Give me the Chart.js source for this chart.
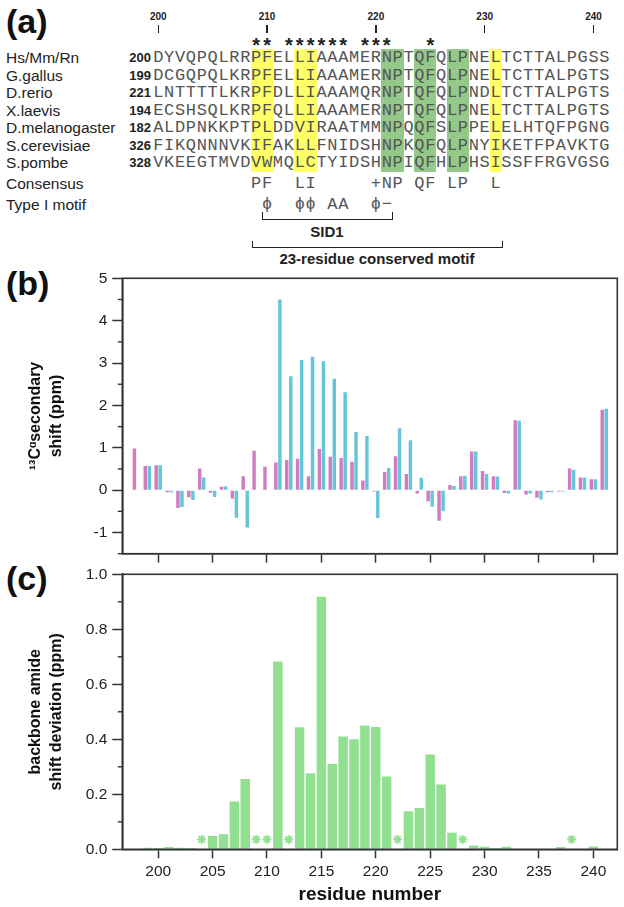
<!DOCTYPE html>
<html>
<head>
<meta charset="utf-8">
<script src="https://cdn.jsdelivr.net/npm/chart.js@4.4.0/dist/chart.umd.min.js"></script>
<style>
  body { margin: 0; background: #fff; }
  #page { position: relative; width: 624px; height: 907px; overflow: hidden; font-family: 'Liberation Sans', Arial, sans-serif; }
  .abs { position: absolute; white-space: nowrap; line-height: 20px; }
  .plabel { position: absolute; font-weight: bold; font-size: 34px; line-height: 40px; color: #111; }
  .seq { position: absolute; text-align: center; font-family: 'Liberation Mono', 'Courier New', monospace; font-size: 17px; line-height: 20px; color: #555; }
  .wrap { position: absolute; left: 0; width: 624px; }
</style>
</head>
<body>
<div id="page">
  <div id="align"></div>
  <div class="plabel" style="left:6px;top:1px">(a)</div>
  <div class="plabel" style="left:6px;top:263px">(b)</div>
  <div class="plabel" style="left:6px;top:558px">(c)</div>
  <div class="wrap" style="top:262px;height:306px"><canvas id="chartB"></canvas></div>
  <div class="wrap" style="top:560px;height:347px"><canvas id="chartC"></canvas></div>
</div>
<script>
// ---- (a) alignment ----
const species = ['Hs/Mm/Rn', 'G.gallus', 'D.rerio', 'X.laevis', 'D.melanogaster', 'S.cerevisiae', 'S.pombe'];
const startNums = ['200', '199', '221', '194', '182', '326', '328'];
const sequences = [
  'DYVQPQLRRPFELLIAAAMERNPTQFQLPNELTCTTALPGSS',
  'DCGQPQLKRPFELLIAAAMERNPTQFQLPNELTCTTALPGTS',
  'LNTTTTLKRPFDLLIAAAMQRNPTQFQLPNDLTCTTALPGTS',
  'ECSHSQLKRPFQLLIAAAMERNPTQFQLPNELTCTTALPGTS',
  'ALDPNKKPTPLDDVIRAATMMNPQQFSLPPELELHTQFPGNG',
  'FIKQNNNVKIFAKLLFNIDSHNPKQFQLPNYIKETFPAVKTG',
  'VKEEGTMVDVWMQLCTYIDSHNPIQFHLPHSISSFFRGVGSG'
];
const consensus = '         PF  LI     +NP QF LP  L';
const typeIMotif = '          \u03d5  \u03d5\u03d5 AA  \u03d5\u2212';
const yellowCols = [9, 10, 13, 14, 31];
const greenCols = [21, 22, 24, 25, 27, 28];
const starCols = [9, 10, 12, 13, 14, 15, 16, 17, 19, 20, 21, 25];
const rulerCols = [0, 10, 20, 30, 40];
const rulerLabels = ['200', '210', '220', '230', '240'];

// layout of the alignment block (columns line up with residue axis below)
const colX0 = 158.3, colW = 10.88;
const rowY = [58, 75.5, 93, 110.5, 128, 145.5, 163];
const consY = 184, motifY = 205;

const align = document.getElementById('align');
function add(html, style, cls) {
  const d = document.createElement('div');
  d.className = cls || 'abs';
  d.style.cssText = style;
  d.innerHTML = html;
  align.appendChild(d);
  return d;
}
function colLeft(c) { return colX0 + colW * (c - 0.5); }

yellowCols.forEach(c => add('', `position:absolute;left:${colLeft(c)}px;top:49px;width:${colW + 0.6}px;height:123px;background:#ffff66`, 'x'));
greenCols.forEach(c => add('', `position:absolute;left:${colLeft(c)}px;top:49px;width:${colW + 0.6}px;height:123px;background:#94c98a`, 'x'));

rulerCols.forEach((c, i) => {
  const x = colX0 + colW * c;
  add(rulerLabels[i], `left:${x - 15}px;top:7px;width:30px;text-align:center;font-size:10px;font-weight:bold;color:#222`);
  add('', `position:absolute;left:${x - 0.75}px;top:25px;width:1.5px;height:8px;background:#222`, 'x');
});
starCols.forEach(c => add('*', `left:${colLeft(c) - 3}px;top:35px;width:${colW + 6}px;text-align:center;font-size:20px;font-weight:bold;color:#222`));

function seqRow(str, y) {
  for (let c = 0; c < str.length; c++) {
    if (str[c] === ' ') continue;
    add(str[c], `left:${colLeft(c)}px;top:${y - 10}px;width:${colW}px`, 'seq');
  }
}
species.forEach((name, i) => {
  add(name, `left:6px;top:${rowY[i] - 10}px;font-size:15.5px;color:#222`);
  add(startNums[i], `left:110px;top:${rowY[i] - 10}px;width:41px;text-align:right;font-size:13px;font-weight:bold;color:#222`);
  seqRow(sequences[i], rowY[i]);
});
add('Consensus', `left:6px;top:${consY - 10}px;font-size:15.5px;color:#222`);
add('Type I motif', `left:6px;top:${motifY - 10}px;font-size:15.5px;color:#222`);
seqRow(consensus, consY);
seqRow(typeIMotif, motifY);

// brackets
function bracket(x1, x2, y, h) {
  add('', `position:absolute;left:${x1}px;top:${y - h}px;width:${x2 - x1}px;height:${h}px;border:1.5px solid #222;border-top:none;box-sizing:border-box`, 'x');
}
bracket(colX0 + colW * 9.5, colX0 + colW * 21.6, 220, 8);
add('SID1', `left:${colX0 + colW * 15.5 - 40}px;top:${232 - 10}px;width:80px;text-align:center;font-size:15px;font-weight:bold;color:#222`);
bracket(colX0 + colW * 8.6, colX0 + colW * 31.7, 248, 7);
add('23-residue conserved motif', `left:${colX0 + colW * 20.1 - 120}px;top:${259 - 10}px;width:240px;text-align:center;font-size:15px;font-weight:bold;color:#222`);

// ---- (b) 13C-alpha secondary shifts ----
const residuesB = [198, 199, 200, 201, 202, 203, 204, 205, 206, 207, 208, 209, 210, 211, 212, 213, 214, 215, 216, 217, 218, 219, 220,
  221, 222, 223, 224, 225, 226, 227, 228, 229, 230, 231, 232, 233, 234, 235, 236, 237, 238, 239, 240, 241];
const shiftPink = [0.98, 0.57, 0.59, -0.05, -0.42, -0.17, 0.51, -0.06, 0.08, -0.20, 0.33, 0.93, 0.55, 0.65, 0.71, 0.74, 0.33, 0.97, 0.79, 0.76, 0.67, 0.23, -0.03,
  0.43, 0.80, 0.38, -0.08, -0.26, -0.72, 0.12, 0.33, 0.91, 0.45, 0.33, -0.07, 1.65, -0.10, -0.18, -0.05, -0.03, 0.51, 0.30, 0.26, 1.90];
const shiftCyan = [null, 0.57, 0.59, -0.05, -0.40, -0.23, 0.30, -0.16, 0.09, -0.65, -0.88, null, null, 4.50, 2.69, 3.07, 3.15, 3.04, 2.63, 2.31, 1.37, 1.28, -0.66,
  0.52, 1.46, 1.18, 0.29, -0.39, -0.50, 0.10, 0.34, 0.91, 0.38, 0.32, -0.08, 1.64, -0.08, -0.22, -0.05, -0.03, 0.48, 0.30, 0.26, 1.92];
const yTicksB = [-1, 0, 1, 2, 3, 4, 5];
const yMinorB = [-1.5, -0.5, 0.5, 1.5, 2.5, 3.5, 4.5];

// ---- (c) backbone amide shift deviation ----
const residuesC = [199, 200, 201, 202, 203, 205, 206, 207, 208, 211, 213, 214, 215, 216, 217, 218, 219, 220, 221,
  223, 224, 225, 226, 227, 229, 230, 231, 232, 237, 240];
const amideDev = [0.006, 0.005, 0.008, 0.006, 0.005, 0.048, 0.055, 0.174, 0.256, 0.683, 0.444, 0.277, 0.918, 0.310, 0.410, 0.400, 0.450, 0.445, 0.265,
  0.138, 0.150, 0.345, 0.236, 0.060, 0.014, 0.009, 0.005, 0.009, 0.008, 0.010];
const prolineResidues = [204, 209, 210, 212, 222, 228, 238];
const starLevel = 0.036;
const yTicksC = [0, 0.2, 0.4, 0.6, 0.8, 1.0];
const yMinorC = [0.1, 0.3, 0.5, 0.7, 0.9];

const xTicks = [200, 205, 210, 215, 220, 225, 230, 235, 240];

const FONT = "'Liberation Sans', Arial, sans-serif";
const AXIS = '#333';

const framePlugin = {
  id: 'frame',
  afterDraw(chart) {
    const a = chart.chartArea, ctx = chart.ctx;
    ctx.save();
    ctx.strokeStyle = AXIS;
    ctx.lineWidth = 1.6;
    ctx.strokeRect(a.left, a.top, a.right - a.left, a.bottom - a.top);
    ctx.restore();
  }
};
const minorTicks = {
  id: 'minorTicks',
  afterDraw(chart, args, opts) {
    const y = chart.scales.y, ctx = chart.ctx;
    ctx.save();
    ctx.strokeStyle = AXIS;
    ctx.lineWidth = 1.4;
    (opts.values || []).forEach(v => {
      const py = y.getPixelForValue(v);
      ctx.beginPath();
      ctx.moveTo(y.right - 4.5, py);
      ctx.lineTo(y.right, py);
      ctx.stroke();
    });
    ctx.restore();
  }
};

function xAxis(showLabels, height) {
  return {
    type: 'linear', min: 196.7, max: 242.2, offset: false,
    afterBuildTicks: s => { s.ticks = xTicks.map(v => ({ value: v })); },
    afterFit: s => { s.height = height; },
    ticks: {
      callback: v => showLabels ? String(v) : '',
      font: { family: FONT, size: 15.5 }, color: '#222', padding: 4, maxRotation: 0
    },
    grid: { drawOnChartArea: false, tickLength: 9, tickColor: AXIS, tickWidth: 1.5, offset: false },
    border: { color: AXIS, width: 1.6 },
    title: showLabels ? { display: true, text: 'residue number', font: { family: FONT, size: 19, weight: 'bold' }, color: '#111', padding: { top: 0, bottom: 1 } } : { display: false }
  };
}
function yAxis(min, max, ticks, fmt, titleLines) {
  return {
    min: min, max: max,
    afterBuildTicks: s => { s.ticks = ticks.map(v => ({ value: v })); },
    afterFit: s => { s.width = 122.3; },
    ticks: { callback: fmt, font: { family: FONT, size: 15.5 }, color: '#222', padding: 5 },
    grid: { drawOnChartArea: false, tickLength: 10, tickColor: AXIS, tickWidth: 1.5 },
    border: { color: AXIS, width: 1.6 },
    title: { display: true, text: titleLines, font: { family: FONT, size: 16, weight: 'bold', lineHeight: 1.3 }, color: '#111', padding: { top: 25.6, bottom: 0 } }
  };
}

new Chart(document.getElementById('chartB'), {
  type: 'bar',
  data: {
    datasets: [
      {
        data: residuesB.map((r, i) => ({ x: r, y: shiftPink[i] })).filter(p => p.y !== null),
        backgroundColor: '#d07cc0', barPercentage: 0.86, categoryPercentage: 0.74
      },
      {
        data: residuesB.map((r, i) => ({ x: r, y: shiftCyan[i] })).filter(p => p.y !== null),
        backgroundColor: '#66c6d9', barPercentage: 0.86, categoryPercentage: 0.74
      }
    ]
  },
  options: {
    responsive: true, maintainAspectRatio: false, animation: false,
    layout: { padding: { left: 0, right: 6.7, top: 16.3, bottom: 0 } },
    plugins: { legend: { display: false }, tooltip: { enabled: false }, minorTicks: { values: yMinorB } },
    scales: {
      x: xAxis(false, 11.3),
      y: yAxis(-1.5, 5, yTicksB, v => String(v), ['\u00b9\u00b3C\u1d45secondary', 'shift (ppm)'])
    }
  },
  plugins: [framePlugin, minorTicks]
});

new Chart(document.getElementById('chartC'), {
  type: 'bar',
  data: {
    datasets: [
      {
        data: residuesC.map((r, i) => ({ x: r, y: amideDev[i] })),
        backgroundColor: '#90e090', barPercentage: 0.87, categoryPercentage: 1.0
      },
      {
        type: 'scatter',
        data: prolineResidues.map(r => ({ x: r, y: starLevel })),
        pointStyle: 'star', pointRadius: 4.5, borderColor: '#90e090', borderWidth: 1.8, backgroundColor: '#90e090'
      }
    ]
  },
  options: {
    responsive: true, maintainAspectRatio: false, animation: false,
    layout: { padding: { left: 0, right: 6.7, top: 11, bottom: 0 } },
    plugins: { legend: { display: false }, tooltip: { enabled: false }, minorTicks: { values: yMinorC } },
    scales: {
      x: xAxis(true, 57.7),
      y: yAxis(0, 1.0, yTicksC, v => v.toFixed(1), ['backbone amide', 'shift deviation (ppm)'])
    }
  },
  plugins: [framePlugin, minorTicks]
});
</script>
</body>
</html>
